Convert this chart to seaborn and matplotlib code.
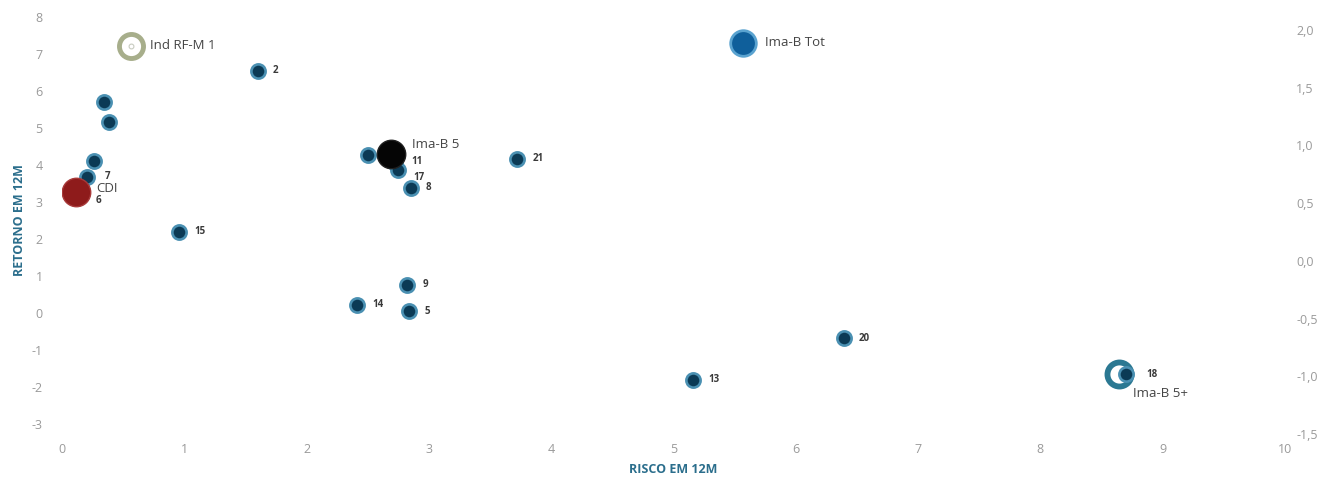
import numpy as np
import pandas as pd
import matplotlib
matplotlib.use("Agg")
import matplotlib.pyplot as plt
import seaborn as sns

# funds (risk x return over 12 months)
fund_labels = ['2', '', '', '', '7', '6', '15', '', '11', '17', '8', '21',
               '9', '14', '5', '20', '13', '18']
fund_risk = [1.60, 0.34, 0.38, 0.26, 0.20, 0.13, 0.96, 2.50, 2.72, 2.75, 2.85, 3.72,
             2.82, 2.41, 2.84, 6.39, 5.16, 8.70]
fund_ret = [6.55, 5.70, 5.15, 4.10, 3.68, 3.30, 2.20, 4.27, 4.05, 3.86, 3.38, 4.17,
            0.76, 0.22, 0.05, -0.68, -1.81, -1.65]

# benchmarks
bench_names = ['Ind RF-M 1', 'Ima-B Tot', 'Ima-B 5', 'CDI', 'Ima-B 5+']
bench_risk = [0.56, 5.57, 2.69, 0.11, 8.64]
bench_ret = [7.22, 7.30, 4.30, 3.28, -1.65]

left_ticks = list(range(-3, 9))
right_ticks = [-1.5, -1.0, -0.5, 0.0, 0.5, 1.0, 1.5, 2.0]

funds = pd.DataFrame({'label': fund_labels, 'risco': fund_risk, 'retorno': fund_ret})
bench = pd.DataFrame({'nome': bench_names, 'risco': bench_risk, 'retorno': bench_ret})

sns.set_style("white")
plt.rcParams['font.family'] = ['Open Sans', 'DejaVu Sans']
plt.rcParams['axes.unicode_minus'] = False

fig = plt.figure(figsize=(13.29, 4.79), dpi=100)
ax = fig.add_axes([0.0467, 0.084, 0.9202, 0.9115])

# label offsets in points (default to the right of the marker)
fund_offsets = {'7': (13, 0), '6': (13, -7), '11': (12, 1), '17': (11, -5), '18': (15, 0)}

sns.scatterplot(data=funds, x='risco', y='retorno', ax=ax, s=105,
                color='#0b3a55', edgecolor='#4a90b2', linewidth=1.9, zorder=3, legend=False)

bench_style = {
    'Ind RF-M 1': dict(facecolor='white', edgecolor='#a7ae8b', s=300, lw=3.5),
    'Ima-B Tot': dict(facecolor='#0f5f9b', edgecolor='#5aa3d0', s=340, lw=2.0),
    'Ima-B 5': dict(facecolor='#050505', edgecolor='#202020', s=420, lw=1.0),
    'CDI': dict(facecolor='#8e1b1b', edgecolor='#a83a3a', s=420, lw=1.0),
    'Ima-B 5+': dict(facecolor='white', edgecolor='#2b7892', s=300, lw=4.2),
}
bench_offsets = {'Ind RF-M 1': (14, 0), 'Ima-B Tot': (16, 0), 'Ima-B 5': (15, 7),
                 'CDI': (15, 2), 'Ima-B 5+': (10, -14)}

for _, r in bench.iterrows():
    st = bench_style[r['nome']]
    sns.scatterplot(x=[r['risco']], y=[r['retorno']], ax=ax, s=st['s'],
                    color=st['facecolor'], edgecolor=st['edgecolor'],
                    linewidth=st['lw'], zorder=4 if r['nome'] != 'Ima-B 5+' else 2,
                    legend=False)
    ax.annotate(r['nome'], (r['risco'], r['retorno']), xytext=bench_offsets[r['nome']],
                textcoords='offset points', ha='left', va='center',
                fontsize=9.5, color='#444444', zorder=6)

# small inner dot of the Ind RF-M 1 ring
ax.scatter(bench_risk[0], bench_ret[0], s=12, facecolor='white', edgecolor='#c8ccc0',
           linewidth=0.8, zorder=5)

for _, r in funds.iterrows():
    if not r['label']:
        continue
    off = fund_offsets.get(r['label'], (11, 0))
    ax.annotate(r['label'], (r['risco'], r['retorno']), xytext=off,
                textcoords='offset points', ha='left', va='center',
                fontsize=7, fontweight='bold', color='#3a3a3a', zorder=6)

ax.set_xlim(0, 10)
ax.set_ylim(-3.4, 8.4)
ax.set_xticks(range(0, 11))
ax.set_yticks(left_ticks)
ax.tick_params(axis='x', colors='#9a9a9a', labelsize=9, length=0, pad=3)
ax.tick_params(axis='y', colors='#9a9a9a', labelsize=9, length=0, pad=14)
ax.set_xlabel('RISCO EM 12M', fontsize=9, fontweight='bold', color='#2b6e8c', labelpad=5)
ax.set_ylabel('RETORNO EM 12M', fontsize=9, fontweight='bold', color='#2b6e8c', labelpad=4)
sns.despine(ax=ax, left=True, bottom=True)

ax2 = ax.twinx()
ax2.set_ylim(-1.542, 2.241)
ax2.set_yticks(right_ticks)
ax2.set_yticklabels([f"{t:.1f}".replace('.', ',') for t in right_ticks])
ax2.tick_params(axis='y', colors='#9a9a9a', labelsize=9, length=0, pad=8)
sns.despine(ax=ax2, left=True, bottom=True, right=True)

fig.savefig('out.png', dpi=100)
